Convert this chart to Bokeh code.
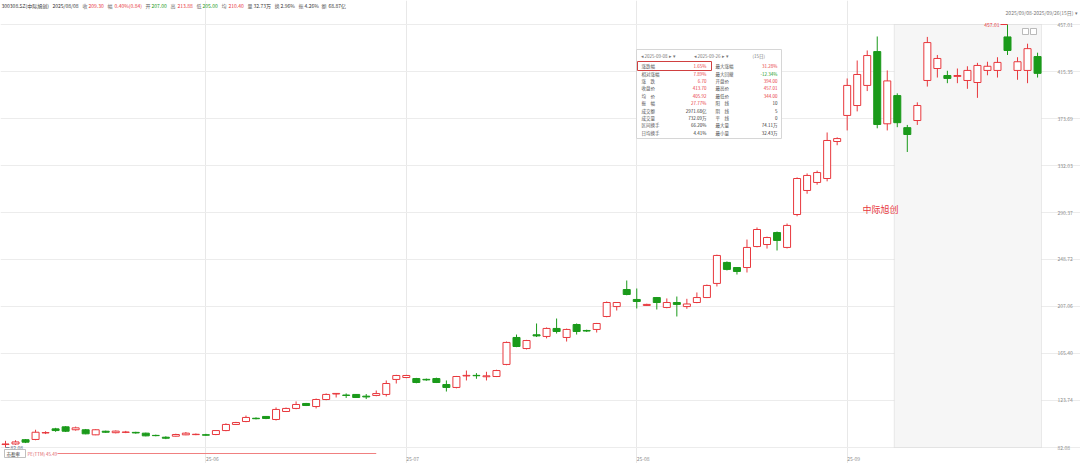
import pandas as pd
from bokeh.plotting import figure
from bokeh.models import ColumnDataSource, Range1d, FixedTicker, BoxAnnotation
from bokeh.embed import file_html
from bokeh.resources import INLINE
from bokeh.core.properties import value

# ---------------- data ----------------
stock_name = "中际旭创"
holidays = ["2025-05-01", "2025-05-02", "2025-05-05", "2025-06-02"]
dates = [d.strftime("%Y-%m-%d") for d in pd.bdate_range("2025-04-30", "2025-09-26")
         if d.strftime("%Y-%m-%d") not in holidays]
month_labels = ["25-06", "25-07", "25-08", "25-09"]

opens = [84.7, 85.2, 89.0, 89.2, 95.0, 98.6, 100.4, 97.8, 97.8, 93.3,
         96.5, 95.2, 95.5, 95.5, 94.8, 92.8, 91.2, 92.1, 93.3, 93.5,
         93.4, 93.6, 97.1, 102.5, 105.1, 108.0, 109.6, 106.9, 114.0, 116.7,
         121.1, 118.4, 124.6, 129.5, 128.6, 129.1, 127.6, 128.2, 129.1, 142.4,
         144.1, 143.2, 142.5, 143.2, 137.9, 135.3, 145.5, 146.0, 144.8, 145.0,
         155.7, 179.6, 169.8, 182.0, 180.5, 187.6, 179.6, 191.1, 185.8, 186.7,
         198.2, 207.0, 222.1, 213.3, 208.0, 215.0, 206.2, 210.6, 207.0, 210.6,
         215.0, 227.5, 246.1, 241.6, 241.6, 260.2, 262.0, 272.6, 259.4, 288.6,
         309.9, 317.0, 320.5, 353.3, 376.4, 385.2, 403.0, 433.0, 369.0, 394.0,
         365.6, 371.9, 407.4, 418.0, 411.8, 411.0, 407.4, 405.6, 416.3, 416.3,
         446.0, 416.3, 416.3, 428.6]
highs = [88.0, 88.5, 89.6, 97.8, 96.5, 99.5, 101.0, 100.6, 98.5, 98.3,
         97.0, 97.2, 96.8, 96.0, 95.2, 93.5, 92.0, 94.3, 95.8, 94.5,
         94.2, 97.5, 103.5, 104.8, 110.4, 108.8, 110.0, 117.6, 117.5, 122.9,
         121.6, 125.5, 130.0, 130.3, 130.0, 129.5, 129.5, 132.6, 141.5, 146.5,
         146.5, 143.8, 143.2, 144.0, 141.5, 145.5, 150.3, 148.0, 149.2, 151.0,
         176.0, 182.2, 177.5, 192.0, 188.5, 196.4, 187.5, 192.0, 186.5, 192.5,
         211.5, 211.0, 230.1, 223.0, 209.5, 215.5, 214.2, 215.9, 213.88, 219.5,
         226.5, 253.0, 247.0, 242.0, 266.4, 277.1, 269.0, 273.5, 280.6, 321.5,
         325.0, 327.5, 361.3, 357.0, 409.2, 425.1, 434.0, 446.4, 416.3, 396.0,
         368.0, 388.0, 446.0, 430.0, 416.0, 418.0, 420.0, 423.0, 424.0, 428.0,
         457.01, 428.0, 440.0, 432.0]
lows = [82.08, 84.5, 86.0, 88.5, 94.0, 96.0, 95.8, 97.0, 93.8, 93.0,
        95.0, 94.6, 94.8, 94.3, 92.0, 92.0, 89.5, 91.8, 93.0, 93.0,
        92.5, 93.0, 96.5, 102.0, 104.5, 107.0, 107.2, 106.0, 113.5, 116.0,
        118.8, 116.7, 124.0, 126.4, 126.0, 126.0, 125.0, 127.5, 127.3, 138.8,
        143.5, 139.0, 141.2, 139.2, 131.7, 134.5, 141.5, 143.0, 141.5, 144.5,
        155.0, 171.0, 169.0, 180.0, 178.8, 183.1, 176.0, 182.2, 184.5, 184.0,
        197.5, 203.5, 217.0, 205.3, 207.5, 204.4, 205.5, 198.2, 205.0, 210.0,
        214.5, 224.8, 239.0, 235.4, 237.2, 259.5, 258.4, 256.7, 258.5, 287.0,
        307.0, 315.0, 318.0, 350.0, 363.1, 380.0, 398.0, 365.0, 363.1, 366.0,
        344.0, 368.0, 402.0, 410.0, 405.0, 405.0, 400.0, 392.0, 412.0, 410.0,
        430.0, 408.0, 405.0, 410.0]
closes = [85.2, 87.0, 86.8, 95.6, 95.3, 97.1, 96.5, 99.5, 94.2, 97.8,
          95.6, 96.6, 95.8, 95.0, 92.4, 92.6, 90.3, 93.6, 94.8, 93.8,
          93.0, 97.1, 102.5, 104.2, 108.7, 107.6, 107.8, 115.8, 116.7, 120.2,
          119.3, 124.6, 129.1, 130.0, 128.2, 126.4, 126.9, 129.9, 138.8, 145.9,
          145.9, 139.7, 142.0, 139.7, 135.3, 145.0, 146.0, 145.7, 145.6, 150.3,
          175.2, 171.6, 176.9, 181.0, 187.6, 184.9, 186.7, 184.9, 185.3, 192.0,
          210.6, 210.6, 217.7, 211.5, 208.9, 210.6, 210.6, 208.9, 209.3, 215.0,
          225.7, 252.3, 239.9, 238.1, 259.4, 275.3, 268.2, 265.6, 278.9, 320.5,
          323.2, 325.8, 354.2, 355.9, 403.0, 412.7, 429.5, 368.4, 407.0, 370.0,
          359.5, 385.2, 441.0, 426.9, 409.2, 411.8, 416.3, 420.7, 420.0, 423.4,
          434.0, 424.0, 435.6, 413.7]

y_ticks = [82.08, 123.74, 165.40, 207.06, 248.72, 290.37, 332.03, 373.69, 415.35, 457.01]

header_items = ["300308.SZ(中际旭创)", "2025/08/08", "收", "209.30", "幅", "0.40%(0.84)",
                "开", "207.00", "高", "213.88", "低", "205.00", "均", "210.40",
                "量", "32.73万", "换", "2.96%", "振", "4.26%", "额", "68.87亿"]
header_kinds = ["n", "n", "l", "up", "l", "up", "l", "dn", "l", "up", "l", "dn", "l", "up",
                "l", "n", "l", "n", "l", "n", "l", "n"]

sel_start, sel_end = "2025-09-08", "2025-09-26"
sel_days = 15
left_labels = ["涨跌幅", "相对涨幅", "涨　跌", "收盘价", "均　价", "振　幅", "成交额", "成交量", "区间换手", "日均换手"]
left_values = ["1.65%", "7.89%", "6.70", "413.70", "405.92", "27.77%", "2971.68亿", "732.09万", "66.20%", "4.41%"]
left_kinds = ["up", "up", "up", "up", "up", "up", "n", "n", "n", "n"]
right_labels = ["最大涨幅", "最大回撤", "开盘价", "最高价", "最低价", "阳　线", "阴　线", "平　线", "最大量", "最小量"]
right_values = ["31.28%", "-12.34%", "394.00", "457.01", "344.00", "10", "5", "0", "74.11万", "32.43万"]
right_kinds = ["up", "dn", "up", "up", "up", "n", "n", "n", "n", "n"]

pe_name, pe_text = "市盈率", "PE(TTM) 45.49"
pe_last_date = "2025-06-26"

# ---------------- styling / layout ----------------
RED, GREEN, DARK = "#e8383d", "#1a9a1a", "#333333"
kind_color = {"up": RED, "dn": GREEN, "n": DARK, "l": "#666666"}
FONT = "Noto Sans CJK SC"
W, H = 1080, 463

X_FIRST, X_PITCH = 5.0, 10.02           # px of first candle, px per candle
Y_TOP_PX, Y_BOT_PX = 24.0, 447.0         # px of highest / lowest tick


def dx(px):
    return (px - X_FIRST) / X_PITCH


PPU = (Y_BOT_PX - Y_TOP_PX) / (y_ticks[-1] - y_ticks[0])


def dy(py):
    return y_ticks[-1] - (py - Y_TOP_PX) / PPU


n = len(dates)
idx = list(range(n))
is_up = [c >= o for o, c in zip(opens, closes)]
src = ColumnDataSource(dict(
    x=idx,
    top=[max(o, c) for o, c in zip(opens, closes)],
    bottom=[min(o, c) for o, c in zip(opens, closes)],
    high=highs, low=lows,
    fill=["white" if u else GREEN for u in is_up],
    line=[RED if u else GREEN for u in is_up],
))

month_idx = [next(i for i, d in enumerate(dates) if d[2:7] == m) for m in month_labels]

p = figure(width=W, height=H, output_backend="svg", toolbar_location=None,
           x_range=Range1d(dx(0), dx(W)), y_range=Range1d(dy(H), dy(0)),
           x_axis_location=None, y_axis_location=None,
           min_border_left=0, min_border_top=0, min_border_bottom=0, min_border_right=0)
p.outline_line_color = None
p.background_fill_color = "white"
p.border_fill_color = "white"

p.ygrid.ticker = FixedTicker(ticks=y_ticks)
p.ygrid.grid_line_color = "#ececec"
p.xgrid.ticker = FixedTicker(ticks=month_idx)
p.xgrid.grid_line_color = "#e8e8e8"

# selection box
i0, i1 = dates.index(sel_start), dates.index(sel_end)
p.add_layout(BoxAnnotation(left=i0 - 0.3, right=dx(1041), top=dy(24), bottom=y_ticks[0],
                           fill_color="#f6f6f6", fill_alpha=1.0, line_color="#c4c4c4",
                           line_width=1, level="underlay"))

# price-axis labels (right side)
p.text(x=[dx(1057)] * len(y_ticks), y=y_ticks, text=[f"{v:.2f}" for v in y_ticks],
       text_color="#8c8c8c", text_font=value(FONT), text_font_size="5px",
       text_align="left", text_baseline="middle")

# candles
p.segment(x0="x", x1="x", y0="low", y1="high", line_color="line", line_width=1, source=src)
p.vbar(x="x", width=0.7, top="top", bottom="bottom", fill_color="fill",
       line_color="line", line_width=1, source=src)

# max / min markers
imax = highs.index(max(highs))
imin = lows.index(min(lows))
p.segment(x0=[dx(1000)], x1=[imax], y0=[highs[imax]], y1=[highs[imax]], line_color=RED, line_width=1)
p.text(x=[dx(999)], y=[highs[imax]], text=[f"{highs[imax]:.2f}"], text_color=RED,
       text_font=value(FONT), text_font_size="5px", text_align="right", text_baseline="middle")
p.segment(x0=[imin], x1=[dx(9)], y0=[lows[imin]], y1=[lows[imin]], line_color="#7a8aa0", line_width=1)
p.text(x=[dx(10)], y=[lows[imin]], text=[f"{lows[imin]:.2f}"], text_color="#5a6a80",
       text_font=value(FONT), text_font_size="5px", text_align="left", text_baseline="middle")

# header line
hx = [1, 52, 82, 88, 107, 114, 145, 151, 170, 177, 196, 202, 221, 228, 247, 253, 274, 280, 298, 304, 321, 328]
p.text(x=[dx(v) for v in hx], y=[dy(5)] * len(hx), text=header_items,
       text_color=[kind_color[k] for k in header_kinds],
       text_font=value(FONT), text_font_size="5px", text_align="left", text_baseline="middle")
p.text(x=[dx(1073)], y=[dy(12)],
       text=[f"{sel_start.replace('-', '/')}-{sel_end.replace('-', '/')}({sel_days}日)"],
       text_color="#777777", text_font=value(FONT), text_font_size="5px",
       text_align="right", text_baseline="middle")
p.text(x=[dx(1074)], y=[dy(12)], text=["▾"], text_color="#777777", text_font=value(FONT),
       text_font_size="5px", text_align="left", text_baseline="middle")

# stock name label
p.text(x=[dx(880)], y=[dy(209)], text=[stock_name], text_color=RED, text_font=value(FONT),
       text_font_size="9px", text_align="center", text_baseline="middle")

# month labels
p.text(x=month_idx, y=[dy(458)] * len(month_idx), text=month_labels, text_color="#8c8c8c",
       text_font=value(FONT), text_font_size="5px", text_align="left", text_baseline="middle")

# PE indicator strip
pe_end = dates.index(pe_last_date)
p.segment(x0=[dx(57)], x1=[pe_end], y0=[dy(453)], y1=[dy(453)], line_color="#f08080", line_width=1)
p.quad(left=[dx(4)], right=[dx(25)], top=[dy(449)], bottom=[dy(457)], fill_color="white",
       line_color="#b0b0b0", line_width=0.8)
p.text(x=[dx(6)], y=[dy(453)], text=[pe_name], text_color=DARK, text_font=value(FONT),
       text_font_size="4.5px", text_align="left", text_baseline="middle")
p.text(x=[dx(27)], y=[dy(453)], text=[pe_text], text_color="#e0606a", text_font=value(FONT),
       text_font_size="4.5px", text_align="left", text_baseline="middle")

# box close icons
p.quad(left=[dx(1022), dx(1030)], right=[dx(1028), dx(1036)], top=[dy(28)] * 2, bottom=[dy(34)] * 2,
       fill_color="white", line_color="#aaaaaa", line_width=0.8)

# statistics panel
p.quad(left=[dx(636)], right=[dx(781)], top=[dy(49)], bottom=[dy(138)], fill_color="white",
       line_color="#d6d6d6", line_width=1)
p.quad(left=[dx(637)], right=[dx(711)], top=[dy(61)], bottom=[dy(70)], fill_color=None,
       line_color="#d04040", line_width=1)
p.text(x=[dx(640), dx(693), dx(752)], y=[dy(55)] * 3,
       text=[f"◂ {sel_start} ▸ ▾", f"◂ {sel_end} ▸ ▾", f"({sel_days}日)"],
       text_color="#777777", text_font=value(FONT), text_font_size="4.5px",
       text_align="left", text_baseline="middle")
rows_y = [dy(65.6 + 7.4 * k) for k in range(len(left_labels))]
p.text(x=[dx(641)] * len(rows_y), y=rows_y, text=left_labels, text_color="#555555",
       text_font=value(FONT), text_font_size="4.5px", text_align="left", text_baseline="middle")
p.text(x=[dx(706)] * len(rows_y), y=rows_y, text=left_values,
       text_color=[kind_color[k] for k in left_kinds],
       text_font=value(FONT), text_font_size="4.5px", text_align="right", text_baseline="middle")
p.text(x=[dx(715)] * len(rows_y), y=rows_y, text=right_labels, text_color="#555555",
       text_font=value(FONT), text_font_size="4.5px", text_align="left", text_baseline="middle")
p.text(x=[dx(777)] * len(rows_y), y=rows_y, text=right_values,
       text_color=[kind_color[k] for k in right_kinds],
       text_font=value(FONT), text_font_size="4.5px", text_align="right", text_baseline="middle")

open("out.html", "w").write(file_html(p, INLINE))
